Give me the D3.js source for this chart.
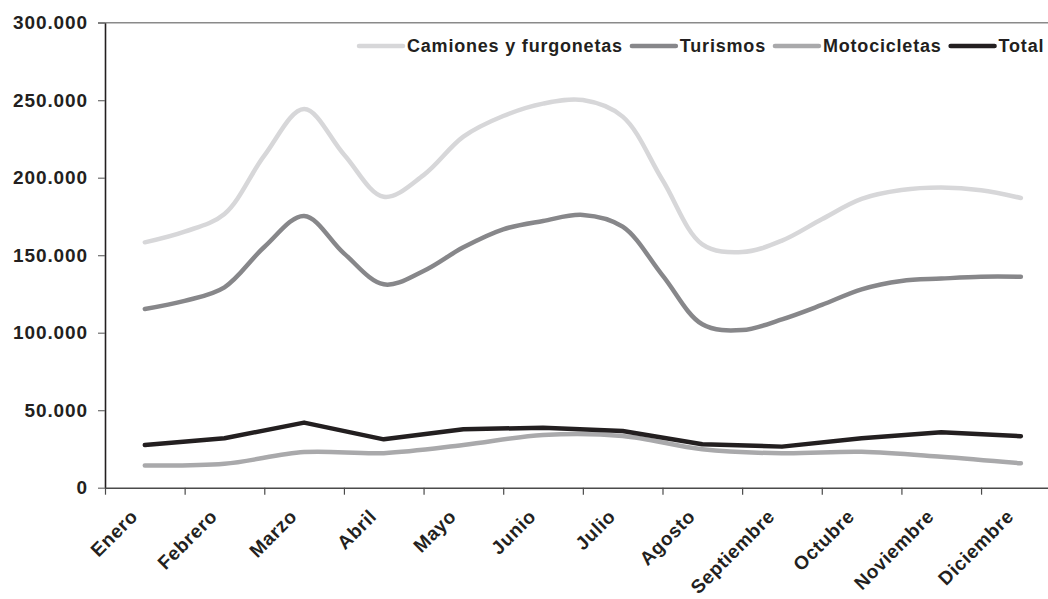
<!DOCTYPE html>
<html>
<head>
<meta charset="utf-8">
<script src="https://cdn.jsdelivr.net/npm/d3@7"></script>
<style>
  html, body { margin: 0; padding: 0; background: #fff; }
  svg { display: block; }
</style>
</head>
<body>
<svg id="chart"></svg>
<script>
/* ── Data ── */
const months = ['Enero', 'Febrero', 'Marzo', 'Abril', 'Mayo', 'Junio', 'Julio',
  'Agosto', 'Septiembre', 'Octubre', 'Noviembre', 'Diciembre'];

// half-month readings (Enero .. Diciembre, 23 points)
const camiones = [158300, 165200, 176600, 214200, 244300, 215000, 187700, 201700,
  226500, 239800, 247800, 250100, 239400, 198500, 157000, 152000, 159400, 173200,
  186300, 192000, 193600, 191900, 186900];
const turismos = [115300, 120500, 129300, 155300, 175300, 151200, 131200, 139800,
  155100, 166700, 172100, 176000, 168400, 137000, 105400, 101700, 108600, 117900,
  128000, 133400, 134900, 136100, 136100];

// monthly readings
const motocicletas = [14400, 15500, 23000, 22300, 27500, 34000, 33400, 24800,
  22200, 23200, 20000, 15700];
const total = [27500, 31900, 42000, 31200, 37700, 38700, 36600, 28000,
  26500, 31900, 35700, 33200];

const yTicks = [0, 50000, 100000, 150000, 200000, 250000, 300000];

const series = [
  { name: 'Camiones y furgonetas', values: camiones, step: 0.5, color: '#d7d7d9', curve: d3.curveCatmullRom },
  { name: 'Turismos', values: turismos, step: 0.5, color: '#87878a', curve: d3.curveCatmullRom },
  { name: 'Motocicletas', values: motocicletas, step: 1, color: '#a9a9ab', curve: d3.curveCatmullRom },
  { name: 'Total', values: total, step: 1, color: '#231f20', curve: d3.curveLinear },
];

/* ── Layout ── */
const W = 1048, H = 599;
const margin = { top: 22.7, left: 105 };
const iW = 955.7;          // 12 bands, runs past the right edge like the original
const iH = 465;
const FONT = '"Liberation Sans", Arial, Helvetica, sans-serif';
const INK = '#231f20';

const svg = d3.select('#chart')
  .attr('width', W)
  .attr('height', H)
  .attr('viewBox', `0 0 ${W} ${H}`);

svg.append('rect').attr('width', W).attr('height', H).attr('fill', '#fff');

const g = svg.append('g')
  .attr('transform', `translate(${margin.left},${margin.top})`);

/* ── Scales ── */
const x = d3.scaleLinear().domain([0, months.length]).range([0, iW]);
const y = d3.scaleLinear().domain([0, 300000]).range([iH, 0]);

const fmt = v => d3.format(',')(v).replace(/,/g, '.');

/* ── Top border ── */
g.append('line')
  .attr('x1', -7).attr('x2', iW)
  .attr('y1', 0).attr('y2', 0)
  .attr('stroke', '#8a8a8a')
  .attr('stroke-width', 1.5);

/* ── Y axis ── */
g.append('g')
  .call(d3.axisLeft(y).tickValues(yTicks).tickFormat(fmt).tickSize(7).tickSizeOuter(0).tickPadding(10))
  .call(ax => ax.select('.domain').attr('stroke', INK).attr('stroke-width', 1.6))
  .call(ax => ax.selectAll('.tick line').attr('stroke', '#6d6d6d').attr('stroke-width', 1.2))
  .call(ax => ax.selectAll('.tick text')
    .attr('fill', INK)
    .attr('font-size', 19)
    .attr('font-weight', 'bold')
    .attr('letter-spacing', '0.9px')
    .attr('font-family', FONT));

/* ── X axis: ticks on band edges ── */
g.append('g')
  .attr('transform', `translate(0,${iH})`)
  .call(d3.axisBottom(x).tickValues(d3.range(0, months.length + 1)).tickFormat('').tickSize(7).tickSizeOuter(0))
  .call(ax => ax.select('.domain').attr('stroke', '#4a4a4a').attr('stroke-width', 1.5))
  .call(ax => ax.selectAll('.tick line').attr('stroke', '#4a4a4a').attr('stroke-width', 1.2));

/* ── X labels, rotated ── */
g.append('g')
  .selectAll('text')
  .data(months)
  .join('text')
  .attr('transform', (d, i) => `translate(${x(i + 0.5) - 6},${iH + 30}) rotate(-45)`)
  .attr('text-anchor', 'end')
  .attr('fill', INK)
  .attr('font-size', 19)
  .attr('font-weight', 'bold')
  .attr('letter-spacing', '0.6px')
  .attr('font-family', FONT)
  .text(d => d);

/* ── Lines ── */
series.forEach(s => {
  const line = d3.line()
    .x((d, i) => x(i * s.step + 0.5))
    .y(d => y(d))
    .curve(s.curve);

  g.append('path')
    .datum(s.values)
    .attr('fill', 'none')
    .attr('stroke', s.color)
    .attr('stroke-width', 4.5)
    .attr('stroke-linejoin', 'round')
    .attr('stroke-linecap', 'round')
    .attr('d', line);
});

/* ── Legend ── */
const legend = svg.append('g').attr('transform', 'translate(359,46)');
let lx = 0;
series.forEach(s => {
  legend.append('line')
    .attr('x1', lx).attr('x2', lx + 44)
    .attr('y1', 0).attr('y2', 0)
    .attr('stroke', s.color)
    .attr('stroke-width', 4.5)
    .attr('stroke-linecap', 'round');
  const t = legend.append('text')
    .attr('x', lx + 48)
    .attr('y', 0)
    .attr('dy', '0.35em')
    .attr('fill', INK)
    .attr('font-size', 18)
    .attr('font-weight', 'bold')
    .attr('letter-spacing', '0.8px')
    .attr('font-family', FONT)
    .text(s.name);
  lx += 48 + t.node().getComputedTextLength() + 9;
});
</script>
</body>
</html>
